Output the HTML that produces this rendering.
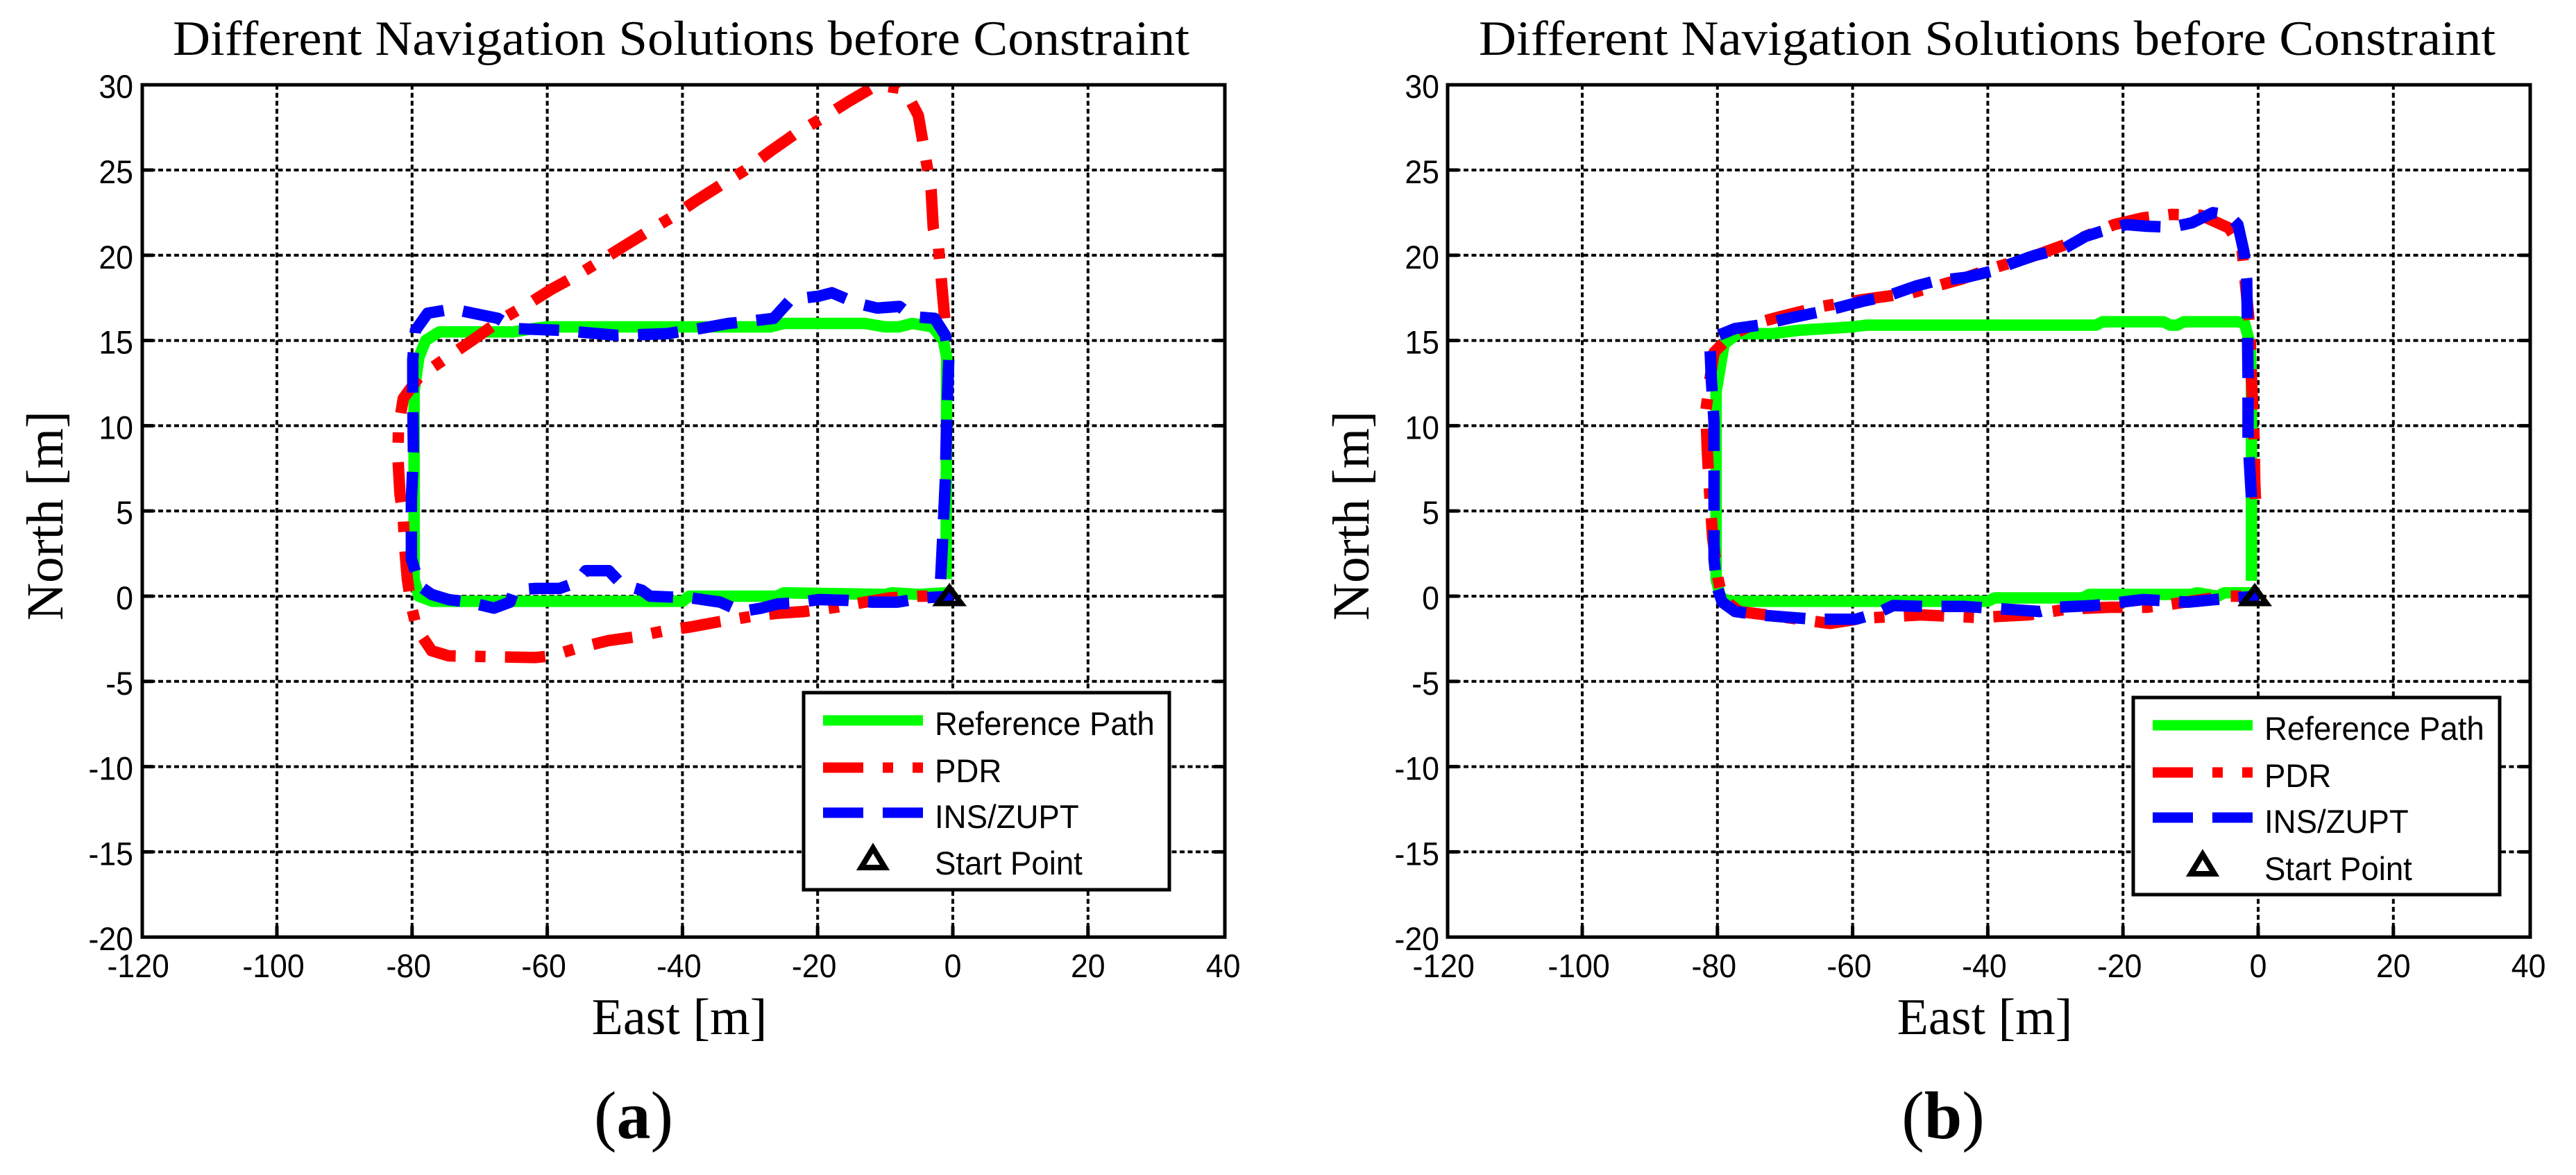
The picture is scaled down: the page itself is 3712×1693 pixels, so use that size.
<!DOCTYPE html>
<html lang="en">
<head>
<meta charset="utf-8">
<title>Different Navigation Solutions before Constraint</title>
<style>
html,body{margin:0;padding:0;background:#fff;}
svg{display:block;}
text{fill:#000;}
.serif{font-family:"Liberation Serif",serif;}
.sans{font-family:"Liberation Sans",sans-serif;}
</style>
</head>
<body>
<svg id="figure" xmlns="http://www.w3.org/2000/svg" width="3712" height="1693" viewBox="0 0 3712 1693">
<rect x="0" y="0" width="3712" height="1693" fill="#fff"/>
<defs>
<clipPath id="clipA"><rect x="204" y="122" width="1560" height="1228"/></clipPath>
<clipPath id="clipB"><rect x="2087" y="122" width="1559" height="1228"/></clipPath>
</defs>
<g id="panelA"></g>
<g id="panelB"></g>

<g>
<rect x="1158" y="998" width="527" height="284" fill="#fff" stroke="#000" stroke-width="5"/>
<line x1="1186" x2="1330" y1="1038" y2="1038" stroke="#00ff00" stroke-width="15"/>
<line x1="1186" x2="1330" y1="1106" y2="1106" stroke="#ff0000" stroke-width="15" stroke-dasharray="58 28 15 28 15"/>
<line x1="1186" x2="1330" y1="1171" y2="1171" stroke="#0000ff" stroke-width="15" stroke-dasharray="58 28"/>
<polygon points="1258,1222 1275,1250 1241,1250" fill="none" stroke="#000" stroke-width="8"/>
<text class="sans" transform="translate(1347 1059) scale(.97 1)" font-size="47">Reference Path</text>
<text class="sans" transform="translate(1347 1127) scale(.97 1)" font-size="47">PDR</text>
<text class="sans" transform="translate(1347 1193) scale(.97 1)" font-size="47">INS/ZUPT</text>
<text class="sans" transform="translate(1347 1260) scale(.97 1)" font-size="47">Start Point</text>
</g>

<g>
<rect x="3074" y="1005" width="528" height="284" fill="#fff" stroke="#000" stroke-width="5"/>
<line x1="3102" x2="3246" y1="1045" y2="1045" stroke="#00ff00" stroke-width="15"/>
<line x1="3102" x2="3246" y1="1113" y2="1113" stroke="#ff0000" stroke-width="15" stroke-dasharray="58 28 15 28 15"/>
<line x1="3102" x2="3246" y1="1178" y2="1178" stroke="#0000ff" stroke-width="15" stroke-dasharray="58 28"/>
<polygon points="3174,1231 3191,1259 3157,1259" fill="none" stroke="#000" stroke-width="8"/>
<text class="sans" transform="translate(3263 1066) scale(.97 1)" font-size="47">Reference Path</text>
<text class="sans" transform="translate(3263 1134) scale(.97 1)" font-size="47">PDR</text>
<text class="sans" transform="translate(3263 1200) scale(.97 1)" font-size="47">INS/ZUPT</text>
<text class="sans" transform="translate(3263 1268) scale(.97 1)" font-size="47">Start Point</text>
</g>

<text class="serif" x="913" y="1640" font-size="98" text-anchor="middle">(<tspan font-weight="bold">a</tspan>)</text>
<text class="serif" x="2800" y="1640" font-size="98" text-anchor="middle">(<tspan font-weight="bold">b</tspan>)</text>
</svg>

<script>
const xTicks = [-120, -100, -80, -60, -40, -20, 0, 20, 40];
const yTicks = [-20, -15, -10, -5, 0, 5, 10, 15, 20, 25, 30];
const startEast = [-0.5];
const startNorth = [-0.1];

const refEastA = [-1,-0.9,-1.4,-3,-6,-8,-10,-13,-25,-27,-40,-60,-62,-65,-76,-78,-79,-79.7,-79.7,-79,-77,-40,-39,-26,-25,-10,-9,-5,-1,0];
const refNorthA = [1,14,15,15.8,16,15.8,15.8,16,16,15.8,15.8,15.8,15.7,15.5,15.5,15,14,12,1,0,-0.3,-0.3,0,0,0.2,0.1,0.2,0.1,0.2,0.2];

const pdrEastA = [-1.2,-1.7,-2.1,-2.9,-3.2,-3.8,-4.5,-5.1,-6.3,-8,-11.2,-15.5,-19.1,-23.4,-27,-30.7,-34.4,-38,-41.7,-45.1,-48.4,-52,-55.7,-59.4,-63,-66.5,-70.4,-75.2,-78.9,-81.3,-82,-82.1,-81.8,-81.3,-81.1,-80.7,-80.1,-79.3,-77.1,-74.6,-68.3,-61.8,-59.4,-56,-50.9,-47.2,-42.3,-38.7,-34.6,-30,-25.9,-22,-17.3,-13.7,-9.4,-5,-3.3,0];
const pdrNorthA = [16.3,18.6,20.4,21.6,23.8,25.2,26.8,28.2,29.1,29.8,30,29,28.1,27.1,26.1,25,24.1,23.2,22.2,21.4,20.6,19.7,18.8,18,17.1,16.3,15.2,13.9,12.9,11.6,9.9,8.2,6,4.6,2.9,1,-0.6,-1.9,-3.2,-3.5,-3.55,-3.6,-3.5,-3.1,-2.6,-2.4,-2,-1.8,-1.5,-1.2,-1,-0.9,-0.65,-0.4,-0.1,0,0,0];

const insEastA = [-1.8,-1.5,-1.1,-0.9,-0.6,-1.1,-2.7,-6,-7.9,-11.2,-14.3,-17.9,-19.8,-24,-26.5,-30.7,-33.2,-37.4,-42.3,-49.6,-58.2,-64.9,-67.3,-71,-74,-77.7,-79.5,-79.9,-79.9,-79.8,-80.1,-80.1,-78.9,-77.1,-74.6,-71.6,-67.9,-65.5,-64.9,-61.8,-58.2,-55.7,-54.3,-50.9,-49,-46,-44.8,-38.7,-34.4,-31.3,-28.3,-25.9,-23.4,-19.8,-15.5,-11.9,-8.2,-4.5,0];
const insNorthA = [1,3.4,6.9,10.4,13.9,15.3,16.3,16.4,17,16.9,17.2,17.8,17.6,17.4,16.3,16.1,16,15.7,15.4,15.3,15.6,15.7,16.3,16.6,16.85,16.6,15.6,13.9,11.6,8.5,5.7,2.2,0.6,0.1,-0.2,-0.35,-0.7,-0.35,0.35,0.45,0.45,0.8,1.5,1.5,0.7,0.35,0,-0.1,-0.35,-0.9,-0.7,-0.45,-0.4,-0.2,-0.25,-0.35,-0.35,-0.1,0];

const refEastB = [-1,-1,-1.2,-2,-3,-11,-12,-13,-14,-23,-24,-58,-60,-68,-72,-77,-79,-80.2,-80.2,-79.5,-78,-40,-39,-26,-25,-10,-9,-6,-5,0];
const refNorthB = [0.9,13,14.8,16,16.1,16.1,15.9,15.9,16.1,16.1,15.9,15.9,15.8,15.6,15.4,15.4,14.8,12,1,-0.1,-0.3,-0.3,-0.1,-0.1,0.1,0.1,0.2,0,0.2,0.2];

const pdrEastB = [-0.4,-0.5,-0.6,-1,-1.2,-1.6,-2.4,-4.3,-8.5,-12.8,-17,-21.3,-25,-28,-32.9,-39.6,-43.9,-51.2,-58.5,-64.6,-70.7,-74.4,-78,-80.5,-81.1,-81.7,-81.5,-81.1,-80.7,-79.9,-79.3,-76.8,-70.7,-63.4,-58.5,-50,-41.5,-34,-28,-22,-16.5,-13.4,-4.9,0];
const pdrNorthB = [5.7,6.7,9.2,12.8,15.6,17.2,20.4,21.6,22.35,22.4,22.2,21.8,21.2,20.7,20,19.2,18.6,17.8,17.4,17,16.4,16,15.3,14.3,12.75,10.9,8.5,5.7,3.4,1,-0.1,-0.9,-1.2,-1.6,-1.3,-1.1,-1.25,-1.1,-0.75,-0.65,-0.65,-0.5,0,0];

const insEastB = [-1,-1.5,-1.5,-1.6,-1.7,-2.1,-3,-4.3,-6.7,-9.8,-12.8,-16.5,-19.5,-23.2,-25.6,-28.7,-33,-36.6,-39,-43.3,-47.6,-50.6,-54.9,-58.5,-63.4,-69.5,-73.8,-77.4,-79.9,-81.1,-80.9,-80.5,-80.5,-80.5,-80.1,-79.3,-77.4,-73.8,-70.7,-65.7,-59.5,-56.4,-54,-49.7,-43.6,-37.8,-32.3,-29.9,-24.4,-17.1,-10.4,-3.7,0];
const insNorthB = [5.8,9.2,12.8,16.3,18.6,20.2,21.8,22.35,22.5,21.9,21.65,21.7,21.8,21.4,21.1,20.4,20,19.5,19.1,18.7,18.5,18.2,17.6,17.3,16.8,16.3,15.9,15.7,15.3,14.6,12.75,10.2,6.4,2.2,0.6,-0.35,-0.9,-1.1,-1.2,-1.35,-1.35,-1,-0.55,-0.6,-0.6,-0.75,-0.9,-0.65,-0.55,-0.2,-0.35,-0.1,0];

const SVGNS = 'http://www.w3.org/2000/svg';

function make(parent, tag, attrs) {
  const el = document.createElementNS(SVGNS, tag);
  for (const k in attrs) el.setAttribute(k, attrs[k]);
  parent.appendChild(el);
  return el;
}

function pathFrom(east, north, X, Y) {
  return east.map((e, i) => (i ? 'L' : 'M') + X(e).toFixed(1) + ' ' + Y(north[i]).toFixed(1)).join(' ');
}

function drawPanel(root, p) {
  const X = v => p.x0 + v * 9.74;
  const Y = v => 859 - v * 24.56;
  const left = p.left, right = p.right, top = Y(30), bottom = Y(-20);

  xTicks.slice(1, -1).forEach(t => {
    const g = make(root, 'line', {x1: X(t), x2: X(t), y1: top, y2: bottom, stroke: '#000', 'stroke-width': 4, 'stroke-dasharray': '7 4.5'});
    
    
  });
  yTicks.slice(1, -1).forEach(t => {
    const g = make(root, 'line', {x1: left, x2: right, y1: Y(t), y2: Y(t), stroke: '#000', 'stroke-width': 4, 'stroke-dasharray': '7 4.5'});
    
    
    const a = make(root, 'line', {x1: left, x2: left + 16, y1: Y(t), y2: Y(t), stroke: '#000', 'stroke-width': 5});
    
    
    const b = make(root, 'line', {x1: right - 16, x2: right, y1: Y(t), y2: Y(t), stroke: '#000', 'stroke-width': 5});
    
    
  });
  xTicks.slice(1, -1).forEach(t => {
    const a = make(root, 'line', {x1: X(t), x2: X(t), y1: bottom - 16, y2: bottom, stroke: '#000', 'stroke-width': 5});
    
    
  });

  const series = make(root, 'g', {'clip-path': 'url(#' + p.clip + ')', fill: 'none', 'stroke-linejoin': 'round'});
  
  

  const ref = make(series, 'path', {d: pathFrom(p.refE, p.refN, X, Y), stroke: '#00ff00', 'stroke-width': 16.5});
  
  

  const pdr = make(series, 'path', {d: pathFrom(p.pdrE, p.pdrN, X, Y), stroke: '#ff0000', 'stroke-width': 16.5, 'stroke-dasharray': '58 28 15 28'});
  
  

  const ins = make(series, 'path', {d: pathFrom(p.insE, p.insN, X, Y), stroke: '#0000ff', 'stroke-width': 16.5, 'stroke-dasharray': '58 28'});
  
  

  const frame = make(root, 'rect', {x: left, y: top, width: right - left, height: bottom - top, fill: 'none', stroke: '#000', 'stroke-width': 5});
  
  

  const sx = X(startEast[0]), sy = Y(startNorth[0]);
  const marker = make(root, 'polygon', {points: [[sx, sy - 15], [sx + 17, sy + 8], [sx - 17, sy + 8]].map(q => q.join(',')).join(' '), fill: 'none', stroke: '#000', 'stroke-width': 8});
  
  

  xTicks.forEach(t => {
    const lx = X(t) + (t < 0 ? -5 : 0);
    const l = make(root, 'text', {'font-size': 47, 'text-anchor': 'middle', class: 'sans', transform: 'translate(' + lx + ' 1408) scale(.95 1)'});
    
    
    l.textContent = String(t);
  });
  yTicks.forEach(t => {
    const l = make(root, 'text', {'font-size': 47, 'text-anchor': 'end', class: 'sans', transform: 'translate(' + p.yLabelX + ' ' + (Y(t) + 19) + ') scale(.95 1)'});
    
    
    l.textContent = String(t);
  });

  const title = make(root, 'text', {x: p.titleX, y: 79, 'font-size': 71, class: 'serif', textLength: p.titleW, lengthAdjust: 'spacingAndGlyphs'});
  
  
  title.textContent = 'Different Navigation Solutions before Constraint';

  const xl = make(root, 'text', {x: p.xLabelX, y: 1490, 'font-size': 74, class: 'serif', 'text-anchor': 'middle'});
  
  
  xl.textContent = 'East [m]';

  const yl = make(root, 'text', {x: 0, y: 0, 'font-size': 75, class: 'serif', 'text-anchor': 'middle', transform: 'translate(' + p.yTitleX + ' 743) rotate(-90)'});
  
  
  yl.textContent = 'North [m]';
}

drawPanel(document.getElementById('panelA'), {
  x0: 1373, left: 205, right: 1765, clip: 'clipA', yLabelX: 192,
  titleX: 249, titleW: 1465, xLabelX: 979, yTitleX: 90,
  refE: refEastA, refN: refNorthA, pdrE: pdrEastA, pdrN: pdrNorthA, insE: insEastA, insN: insNorthA
});
drawPanel(document.getElementById('panelB'), {
  x0: 3254, left: 2086, right: 3646, clip: 'clipB', yLabelX: 2074,
  titleX: 2131, titleW: 1465, xLabelX: 2860, yTitleX: 1972,
  refE: refEastB, refN: refNorthB, pdrE: pdrEastB, pdrN: pdrNorthB, insE: insEastB, insN: insNorthB
});
</script>
</body>
</html>
